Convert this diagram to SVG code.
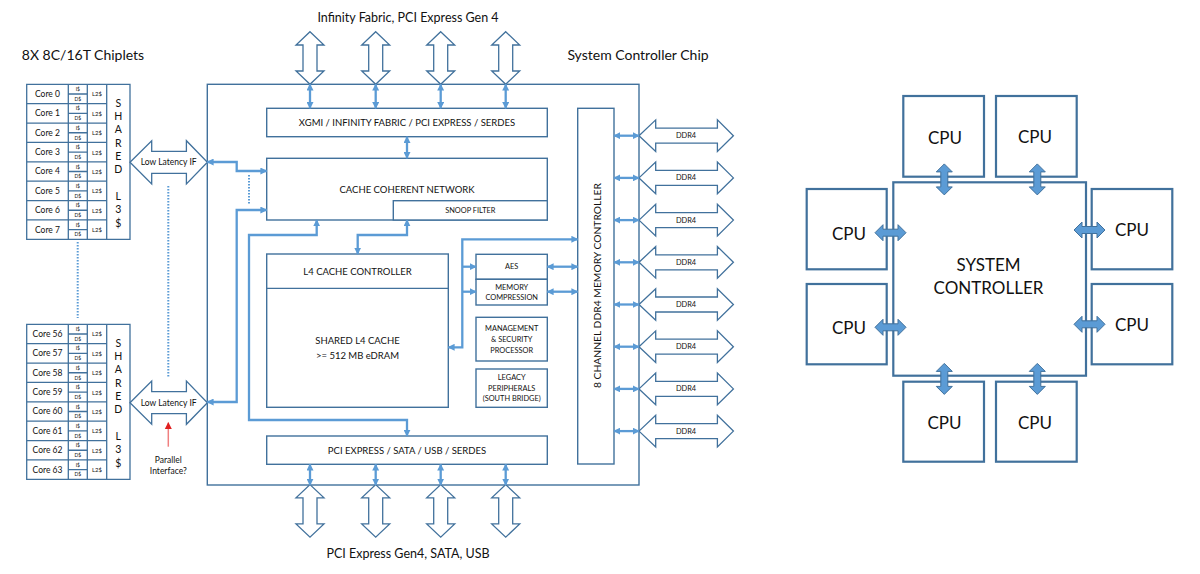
<svg xmlns="http://www.w3.org/2000/svg" width="1200" height="574" viewBox="0 0 1200 574">
<style>
text{font-family:Lato,"Liberation Sans",sans-serif;fill:#111;text-anchor:middle;dominant-baseline:central}
.box{fill:#fff;stroke:#41719C;stroke-width:1.4}
.cbox{fill:#fff;stroke:#41719C;stroke-width:2.2}
.grid{fill:none;stroke:#41719C;stroke-width:1.3}
.io{fill:#fff;stroke:#41719C;stroke-width:1.3}
.con{fill:none;stroke:#5B9BD5;stroke-width:2.3;marker-start:url(#ah);marker-end:url(#ah)}
.one{fill:none;stroke:#5B9BD5;stroke-width:2.3;marker-end:url(#ah)}
.dot{fill:none;stroke:#5B9BD5;stroke-width:2;stroke-dasharray:1.5 1.5}
.blk{fill:#5B9BD5;stroke:#41719C;stroke-width:1}
.t14{font-size:14px}.t12{font-size:12.5px}.t9{font-size:9.5px}.t8{font-size:8.5px}.t7{font-size:7.4px}.t5{font-size:5px}.t6{font-size:6px}.t10{font-size:10.5px}.t17{font-size:17px}
</style>
<defs>
<marker id="ah" viewBox="0 0 10 10" refX="9" refY="5" markerWidth="7" markerHeight="7" markerUnits="userSpaceOnUse" orient="auto-start-reverse"><path d="M0,0 L10,5 L0,10 z" fill="#5B9BD5"/></marker>
<marker id="rh" viewBox="0 0 10 10" refX="9" refY="5" markerWidth="7" markerHeight="8" markerUnits="userSpaceOnUse" orient="auto"><path d="M0,0 L10,5 L0,10 z" fill="#E02020"/></marker>
<polygon id="vio" class="io" points="0,-26.3 14,-13 7,-13 7,13 14,13 0,26.3 -14,13 -7,13 -7,-13 -14,-13"/>
<polygon id="hio" class="io" points="-47.2,0 -30.5,-15.8 -30.5,-7.5 31.2,-7.5 31.2,-15.8 47.2,0 31.2,15.8 31.2,7.5 -30.5,7.5 -30.5,15.8"/>
<polygon id="llif" class="io" points="-38.7,0 -17,-21.6 -17,-11 17.7,-11 17.7,-21.6 38.7,0 17.7,21.6 17.7,11 -17,11 -17,21.6"/>
<polygon id="barr" class="blk" points="-15.5,0 -7.5,-8 -7.5,-3.5 7.5,-3.5 7.5,-8 15.5,0 7.5,8 7.5,3.5 -7.5,3.5 -7.5,8"/>
<path id="tbl" class="grid" d="M26.7,0H130V155H26.7Z M68.3,0V155 M87.3,0V155 M106.7,0V155 M26.7,19.375H106.7 M26.7,38.75H106.7 M26.7,58.125H106.7 M26.7,77.5H106.7 M26.7,96.875H106.7 M26.7,116.25H106.7 M26.7,135.625H106.7 M68.3,9.69H87.3 M68.3,29.06H87.3 M68.3,48.44H87.3 M68.3,67.81H87.3 M68.3,87.19H87.3 M68.3,106.56H87.3 M68.3,125.94H87.3 M68.3,145.31H87.3"/>
</defs>

<g id="titles">
<text class="t14" x="83" y="54" >8X 8C/16T Chiplets</text>
<text class="t12" x="408" y="17">Infinity Fabric, PCI Express Gen 4</text>
<text class="t14" x="638" y="54">System Controller Chip</text>
<text class="t12" x="408" y="553">PCI Express Gen4, SATA, USB</text>
</g>

<g id="chiplet-top" transform="translate(0,84.3)">
<use href="#tbl"/>
<g class="t8">
<text x="47.5" y="9.7">Core 0</text><text x="47.5" y="29.1">Core 1</text><text x="47.5" y="48.4">Core 2</text><text x="47.5" y="67.8">Core 3</text><text x="47.5" y="87.2">Core 4</text><text x="47.5" y="106.6">Core 5</text><text x="47.5" y="125.9">Core 6</text><text x="47.5" y="145.3">Core 7</text>
</g>
<g class="t5">
<text x="77.8" y="4.8">I$</text><text x="77.8" y="14.5">D$</text><text x="77.8" y="24.2">I$</text><text x="77.8" y="33.9">D$</text><text x="77.8" y="43.6">I$</text><text x="77.8" y="53.3">D$</text><text x="77.8" y="63">I$</text><text x="77.8" y="72.7">D$</text><text x="77.8" y="82.3">I$</text><text x="77.8" y="92">D$</text><text x="77.8" y="101.7">I$</text><text x="77.8" y="111.4">D$</text><text x="77.8" y="121.1">I$</text><text x="77.8" y="130.8">D$</text><text x="77.8" y="140.5">I$</text><text x="77.8" y="150.2">D$</text>
</g>
<g class="t6">
<text x="97" y="9.7">L2$</text><text x="97" y="29.1">L2$</text><text x="97" y="48.4">L2$</text><text x="97" y="67.8">L2$</text><text x="97" y="87.2">L2$</text><text x="97" y="106.6">L2$</text><text x="97" y="125.9">L2$</text><text x="97" y="145.3">L2$</text>
</g>
<g class="t10">
<text x="118.3" y="18.4">S</text><text x="118.3" y="31.7">H</text><text x="118.3" y="45">A</text><text x="118.3" y="58.4">R</text><text x="118.3" y="71.7">E</text><text x="118.3" y="85">D</text><text x="118.3" y="111.7">L</text><text x="118.3" y="125">3</text><text x="118.3" y="138.4">$</text>
</g>
</g>

<g id="chiplet-bottom" transform="translate(0,324.3)">
<use href="#tbl"/>
<g class="t8">
<text x="47.5" y="9.7">Core 56</text><text x="47.5" y="29.1">Core 57</text><text x="47.5" y="48.4">Core 58</text><text x="47.5" y="67.8">Core 59</text><text x="47.5" y="87.2">Core 60</text><text x="47.5" y="106.6">Core 61</text><text x="47.5" y="125.9">Core 62</text><text x="47.5" y="145.3">Core 63</text>
</g>
<g class="t5">
<text x="77.8" y="4.8">I$</text><text x="77.8" y="14.5">D$</text><text x="77.8" y="24.2">I$</text><text x="77.8" y="33.9">D$</text><text x="77.8" y="43.6">I$</text><text x="77.8" y="53.3">D$</text><text x="77.8" y="63">I$</text><text x="77.8" y="72.7">D$</text><text x="77.8" y="82.3">I$</text><text x="77.8" y="92">D$</text><text x="77.8" y="101.7">I$</text><text x="77.8" y="111.4">D$</text><text x="77.8" y="121.1">I$</text><text x="77.8" y="130.8">D$</text><text x="77.8" y="140.5">I$</text><text x="77.8" y="150.2">D$</text>
</g>
<g class="t6">
<text x="97" y="9.7">L2$</text><text x="97" y="29.1">L2$</text><text x="97" y="48.4">L2$</text><text x="97" y="67.8">L2$</text><text x="97" y="87.2">L2$</text><text x="97" y="106.6">L2$</text><text x="97" y="125.9">L2$</text><text x="97" y="145.3">L2$</text>
</g>
<g class="t10">
<text x="118.3" y="18.4">S</text><text x="118.3" y="31.7">H</text><text x="118.3" y="45">A</text><text x="118.3" y="58.4">R</text><text x="118.3" y="71.7">E</text><text x="118.3" y="85">D</text><text x="118.3" y="111.7">L</text><text x="118.3" y="125">3</text><text x="118.3" y="138.4">$</text>
</g>
</g>

<g id="system-controller-chip"><rect class="box" x="207.3" y="84.3" width="431.7" height="400.7"/></g>

<g id="llif-top"><use href="#llif" transform="translate(168.7,162.3)"/><text class="t8" x="168.7" y="162.3">Low Latency IF</text></g>
<g id="llif-bottom"><use href="#llif" transform="translate(168.7,402.7)"/><text class="t8" x="168.7" y="402.7">Low Latency IF</text></g>
<g id="parallel-note"><text class="t8" x="168.3" y="460">Parallel</text><text class="t8" x="168.3" y="471">Interface?</text></g>

<g id="io-top">
<use href="#vio" transform="translate(310,58)"/><use href="#vio" transform="translate(375.7,58)"/><use href="#vio" transform="translate(440.7,58)"/><use href="#vio" transform="translate(505.7,58)"/>
</g>
<g id="io-bottom">
<use href="#vio" transform="translate(310,510.9)"/><use href="#vio" transform="translate(375.7,510.9)"/><use href="#vio" transform="translate(440.7,510.9)"/><use href="#vio" transform="translate(505.7,510.9)"/>
</g>

<g id="xgmi"><rect class="box" x="266.7" y="108.3" width="280.6" height="28.4"/><text class="t9" x="407" y="122.5">XGMI / INFINITY FABRIC / PCI EXPRESS / SERDES</text></g>
<g id="ccn"><rect class="box" x="266.7" y="158.3" width="280.6" height="61.7"/><text class="t9" x="407" y="189.3">CACHE COHERENT NETWORK</text></g>
<g id="snoop"><rect class="box" x="393.3" y="200.7" width="154" height="19.3"/><text class="t7" x="470.3" y="210.4">SNOOP FILTER</text></g>
<g id="l4"><rect class="box" x="266.7" y="254" width="181.6" height="153.3"/><line class="grid" x1="266.7" y1="288.3" x2="448.3" y2="288.3"/><text class="t9" x="357.5" y="271.5">L4 CACHE CONTROLLER</text><text class="t9" x="357.5" y="340.7">SHARED L4 CACHE</text><text class="t9" x="357.5" y="355">&gt;= 512 MB eDRAM</text></g>
<g id="aes"><rect class="box" x="476" y="254.3" width="71.3" height="25"/><text class="t7" x="511.7" y="266.8">AES</text></g>
<g id="memcomp"><rect class="box" x="476" y="279.3" width="71.3" height="25.7"/><text class="t7" x="511.7" y="287">MEMORY</text><text class="t7" x="511.7" y="297.5">COMPRESSION</text></g>
<g id="mgmt"><rect class="box" x="476" y="317.3" width="71.3" height="43.7"/><text class="t7" x="511.7" y="328.7">MANAGEMENT</text><text class="t7" x="511.7" y="339.5">&amp; SECURITY</text><text class="t7" x="511.7" y="350">PROCESSOR</text></g>
<g id="legacy"><rect class="box" x="476" y="369" width="71.3" height="38.3"/><text class="t7" x="511.7" y="377.5">LEGACY</text><text class="t7" x="511.7" y="388">PERIPHERALS</text><text class="t7" x="511.7" y="398.7">(SOUTH BRIDGE)</text></g>
<g id="pci"><rect class="box" x="266.7" y="436" width="280.6" height="28.3"/><text class="t9" x="407" y="450.2">PCI EXPRESS / SATA / USB / SERDES</text></g>
<g id="memctrl"><rect class="box" x="577.7" y="108.3" width="36.3" height="355.7"/><text class="t9" transform="translate(596.5,285.5) rotate(-90)" x="0" y="0" style="font-size:10.3px">8 CHANNEL DDR4 MEMORY CONTROLLER</text></g>

<g id="ddr4">
<use href="#hio" transform="translate(686.2,135.7)"/><text class="t7" x="686" y="135.7">DDR4</text>
<use href="#hio" transform="translate(686.2,177.9)"/><text class="t7" x="686" y="177.9">DDR4</text>
<use href="#hio" transform="translate(686.2,220.1)"/><text class="t7" x="686" y="220.1">DDR4</text>
<use href="#hio" transform="translate(686.2,262.3)"/><text class="t7" x="686" y="262.3">DDR4</text>
<use href="#hio" transform="translate(686.2,304.5)"/><text class="t7" x="686" y="304.5">DDR4</text>
<use href="#hio" transform="translate(686.2,346.7)"/><text class="t7" x="686" y="346.7">DDR4</text>
<use href="#hio" transform="translate(686.2,388.9)"/><text class="t7" x="686" y="388.9">DDR4</text>
<use href="#hio" transform="translate(686.2,431.1)"/><text class="t7" x="686" y="431.1">DDR4</text>
</g>

<g id="connectors">
<path class="con" d="M310,84.3V108.3"/><path class="con" d="M375.7,84.3V108.3"/><path class="con" d="M440.7,84.3V108.3"/><path class="con" d="M505.7,84.3V108.3"/>
<path class="con" d="M310,464.3V485"/><path class="con" d="M375.7,464.3V485"/><path class="con" d="M440.7,464.3V485"/><path class="con" d="M505.7,464.3V485"/>
<path class="con" d="M407,136.7V158.3"/>
<path class="con" d="M207.3,162H236.7V171H266.7"/>
<path class="con" d="M207.3,402H236.7V210H266.7"/>
<path class="dot" d="M249,175V205"/>
<path class="con" d="M316.7,220V235H249V420H407V436"/>
<path class="con" d="M407,220V235H357.7V254"/>
<path class="con" d="M577.7,239.3H462.3V347.3H448.3"/>
<path class="one" d="M462.3,266.7H476"/>
<path class="one" d="M462.3,291.7H476"/>
<path class="con" d="M547.3,266.7H577.7"/>
<path class="con" d="M547.3,291.7H577.7"/>
<path class="con" d="M614,135.7H639"/><path class="con" d="M614,177.9H639"/><path class="con" d="M614,220.1H639"/><path class="con" d="M614,262.3H639"/><path class="con" d="M614,304.5H639"/><path class="con" d="M614,346.7H639"/><path class="con" d="M614,388.9H639"/><path class="con" d="M614,431.1H639"/>
<path class="dot" d="M77.7,242V318"/>
<path class="dot" d="M168.3,186V378"/>
<path d="M168.3,446.7V422.7" fill="none" stroke="#F08080" stroke-width="1.5" marker-end="url(#rh)"/>
</g>

<g id="cpu-tl"><rect class="cbox" x="903.3" y="96" width="80.7" height="80.7"/><text class="t17" x="945" y="137">CPU</text></g>
<g id="cpu-tr"><rect class="cbox" x="996" y="96" width="80.7" height="80.7"/><text class="t17" x="1035" y="136.5">CPU</text></g>
<g id="cpu-lt"><rect class="cbox" x="806.7" y="189" width="80" height="80.3"/><text class="t17" x="849" y="233">CPU</text></g>
<g id="cpu-lb"><rect class="cbox" x="806.7" y="284" width="80" height="80.3"/><text class="t17" x="849" y="327.5">CPU</text></g>
<g id="cpu-rt"><rect class="cbox" x="1091.7" y="189" width="80.6" height="80.3"/><text class="t17" x="1132" y="229.5">CPU</text></g>
<g id="cpu-rb"><rect class="cbox" x="1091.7" y="284" width="80.6" height="80.3"/><text class="t17" x="1132" y="324">CPU</text></g>
<g id="cpu-bl"><rect class="cbox" x="903.3" y="381.7" width="80.7" height="80"/><text class="t17" x="944.5" y="422">CPU</text></g>
<g id="cpu-br"><rect class="cbox" x="996" y="381.7" width="80.7" height="80"/><text class="t17" x="1035" y="422">CPU</text></g>
<g id="system-controller"><rect class="cbox" x="893.3" y="182.3" width="192.7" height="193.4"/><text class="t17" x="988.5" y="264">SYSTEM</text><text class="t17" x="988.5" y="287.5">CONTROLLER</text></g>

<g id="cpu-links">
<use href="#barr" transform="translate(944.3,179.4) rotate(90)"/>
<use href="#barr" transform="translate(1037.3,179.4) rotate(90)"/>
<use href="#barr" transform="translate(944.3,378.9) rotate(90)"/>
<use href="#barr" transform="translate(1037.3,378.9) rotate(90)"/>
<use href="#barr" transform="translate(890.5,232.7)"/>
<use href="#barr" transform="translate(890.5,327.3)"/>
<use href="#barr" transform="translate(1089.5,230)"/>
<use href="#barr" transform="translate(1089.5,324.3)"/>
</g>
</svg>
